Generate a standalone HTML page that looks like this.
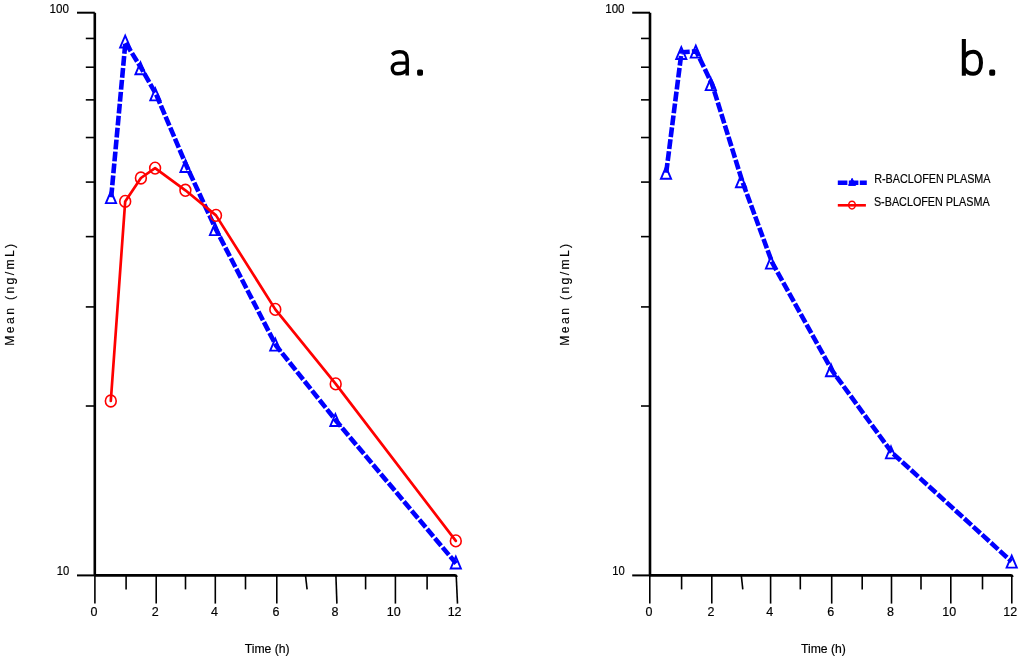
<!DOCTYPE html>
<html><head><meta charset="utf-8"><style>
html,body{margin:0;padding:0;background:#fff;}
body{width:1024px;height:662px;overflow:hidden;}
svg{display:block;will-change:transform;}
text{font-family:"Liberation Sans",sans-serif;fill:#000;stroke:#000;stroke-width:0.18px;}
.tk{font-size:12.5px;}
.ttl{font-size:12.2px;}
.yl{letter-spacing:2.35px;}
.lg{font-size:12px;}
.big{font-size:50px;}
</style></head><body>
<svg width="1024" height="662" viewBox="0 0 1024 662">
<line x1="94.8" y1="12.7" x2="94.8" y2="575.4" stroke="#000" stroke-width="2.6"/>
<line x1="77" y1="575.4" x2="94.8" y2="575.4" stroke="#000" stroke-width="2"/>
<path d="M94.8 575.4 L454.7 575.4 Q456.3 575.4 456.3 577" fill="none" stroke="#000" stroke-width="2.7"/>
<line x1="77" y1="12.7" x2="94.8" y2="12.7" stroke="#000" stroke-width="2"/>
<line x1="85.8" y1="406.01" x2="94.8" y2="406.01" stroke="#000" stroke-width="1.6"/>
<line x1="85.8" y1="306.92" x2="94.8" y2="306.92" stroke="#000" stroke-width="1.6"/>
<line x1="85.8" y1="236.62" x2="94.8" y2="236.62" stroke="#000" stroke-width="1.6"/>
<line x1="85.8" y1="182.09" x2="94.8" y2="182.09" stroke="#000" stroke-width="1.6"/>
<line x1="85.8" y1="137.53" x2="94.8" y2="137.53" stroke="#000" stroke-width="1.6"/>
<line x1="85.8" y1="99.86" x2="94.8" y2="99.86" stroke="#000" stroke-width="1.6"/>
<line x1="85.8" y1="67.23" x2="94.8" y2="67.23" stroke="#000" stroke-width="1.6"/>
<line x1="85.8" y1="38.45" x2="94.8" y2="38.45" stroke="#000" stroke-width="1.6"/>
<line x1="94.9" y1="575.4" x2="94.9" y2="603.6" stroke="#000" stroke-width="1.6"/>
<line x1="126.1" y1="575.4" x2="126.1" y2="589.4" stroke="#000" stroke-width="1.6"/>
<line x1="156.2" y1="575.4" x2="156.2" y2="603.6" stroke="#000" stroke-width="1.6"/>
<line x1="185.5" y1="575.4" x2="185.5" y2="589.4" stroke="#000" stroke-width="1.6"/>
<line x1="215.3" y1="575.4" x2="215.3" y2="603.6" stroke="#000" stroke-width="1.6"/>
<line x1="245.5" y1="575.4" x2="245.5" y2="589.4" stroke="#000" stroke-width="1.6"/>
<line x1="276.8" y1="575.4" x2="276.8" y2="603.6" stroke="#000" stroke-width="1.6"/>
<line x1="305.5" y1="575.4" x2="307.1" y2="589.4" stroke="#000" stroke-width="1.6"/>
<line x1="335.9" y1="575.4" x2="336.9" y2="603.6" stroke="#000" stroke-width="1.6"/>
<line x1="365.6" y1="575.4" x2="365.6" y2="589.4" stroke="#000" stroke-width="1.6"/>
<line x1="395.4" y1="575.4" x2="395.4" y2="603.6" stroke="#000" stroke-width="1.6"/>
<line x1="427.1" y1="575.4" x2="427.1" y2="589.4" stroke="#000" stroke-width="1.6"/>
<line x1="456.2" y1="575.4" x2="457.5" y2="603.6" stroke="#000" stroke-width="1.6"/>
<text x="94" y="616" text-anchor="middle" class="tk">0</text>
<text x="155.3" y="616" text-anchor="middle" class="tk">2</text>
<text x="214.4" y="616" text-anchor="middle" class="tk">4</text>
<text x="275.9" y="616" text-anchor="middle" class="tk">6</text>
<text x="335" y="616" text-anchor="middle" class="tk">8</text>
<text x="393.8" y="616" text-anchor="middle" class="tk">10</text>
<text x="454.6" y="616" text-anchor="middle" class="tk">12</text>
<text transform="translate(69,12.7) scale(0.93,1)" text-anchor="end" class="tk">100</text>
<text transform="translate(69.2,575.2) scale(0.9,1)" text-anchor="end" class="tk">10</text>
<text x="244.7" y="652.9" class="ttl">Time (h)</text>
<text transform="translate(13.6,293.6) rotate(-90)" text-anchor="middle" class="ttl yl">Mean (ng/mL)</text>
<path d="M392.1 54.6 C394.3 52.7 396.8 51.75 399.7 51.75 C404.7 51.75 407.2 54.3 407.2 59.3 L407.2 75.4" fill="none" stroke="#000" stroke-width="3.5"/>
<path d="M407.2 63.1 L398.6 63.1 C394.6 63.1 392.3 65.3 392.3 68.6 C392.3 71.8 394.5 73.8 397.8 73.8 C401.6 73.8 404.6 72.4 407.2 69.8" fill="none" stroke="#000" stroke-width="3.4"/>
<rect x="417.1" y="69.4" width="5.9" height="6.3" rx="1.6" fill="#000"/>
<path d="M111 191.2 L116.1 203.1 L105.9 203.1 Z" fill="none" stroke="#00f" stroke-width="1.9" stroke-linejoin="miter"/>
<path d="M125.2 35.6 L130.3 47.5 L120.1 47.5 Z" fill="none" stroke="#00f" stroke-width="1.9" stroke-linejoin="miter"/>
<path d="M140.5 62.4 L145.6 74.3 L135.4 74.3 Z" fill="none" stroke="#00f" stroke-width="1.9" stroke-linejoin="miter"/>
<path d="M155.4 88.5 L160.5 100.4 L150.3 100.4 Z" fill="none" stroke="#00f" stroke-width="1.9" stroke-linejoin="miter"/>
<path d="M185.5 160.1 L190.6 172 L180.4 172 Z" fill="none" stroke="#00f" stroke-width="1.9" stroke-linejoin="miter"/>
<path d="M215 223.2 L220.1 235.1 L209.9 235.1 Z" fill="none" stroke="#00f" stroke-width="1.9" stroke-linejoin="miter"/>
<path d="M275.3 338.7 L280.4 350.6 L270.2 350.6 Z" fill="none" stroke="#00f" stroke-width="1.9" stroke-linejoin="miter"/>
<path d="M335.4 414.1 L340.5 426 L330.3 426 Z" fill="none" stroke="#00f" stroke-width="1.9" stroke-linejoin="miter"/>
<path d="M455.8 556.6 L460.9 568.5 L450.7 568.5 Z" fill="none" stroke="#00f" stroke-width="1.9" stroke-linejoin="miter"/>
<polyline points="111.2,197.2 125.4,42.4 141.3,68.2 156.2,94.5 186.8,166.6 216,229.5 276,345.5 336.3,421 456.1,563.5" fill="none" stroke="#00f" stroke-width="4.6" stroke-dasharray="9.8 2.2" stroke-linejoin="round"/>
<polyline points="110.8,401 125.2,201.4 140.9,178 155.1,168.1 185.4,190.3 216,215.4 275.3,309.4 335.7,383.9 455.8,540.9" fill="none" stroke="#f00" stroke-width="2.7" stroke-linejoin="round" stroke-linecap="round"/>
<ellipse cx="110.8" cy="401" rx="5.4" ry="5.9" fill="none" stroke="#f00" stroke-width="1.6"/>
<ellipse cx="125.2" cy="201.4" rx="5.4" ry="5.9" fill="none" stroke="#f00" stroke-width="1.6"/>
<ellipse cx="140.9" cy="178" rx="5.4" ry="5.9" fill="none" stroke="#f00" stroke-width="1.6"/>
<ellipse cx="155.1" cy="168.1" rx="5.4" ry="5.9" fill="none" stroke="#f00" stroke-width="1.6"/>
<ellipse cx="185.4" cy="190.3" rx="5.4" ry="5.9" fill="none" stroke="#f00" stroke-width="1.6"/>
<ellipse cx="216" cy="215.4" rx="5.4" ry="5.9" fill="none" stroke="#f00" stroke-width="1.6"/>
<ellipse cx="275.3" cy="309.4" rx="5.4" ry="5.9" fill="none" stroke="#f00" stroke-width="1.6"/>
<ellipse cx="335.7" cy="383.9" rx="5.4" ry="5.9" fill="none" stroke="#f00" stroke-width="1.6"/>
<ellipse cx="455.8" cy="540.9" rx="5.4" ry="5.9" fill="none" stroke="#f00" stroke-width="1.6"/>
<line x1="650" y1="12.7" x2="650" y2="575.4" stroke="#000" stroke-width="2.6"/>
<line x1="632.2" y1="575.4" x2="650" y2="575.4" stroke="#000" stroke-width="2"/>
<path d="M650 575.4 L1010.6 575.4 Q1012.2 575.4 1012.2 577" fill="none" stroke="#000" stroke-width="2.7"/>
<line x1="632.2" y1="12.7" x2="650" y2="12.7" stroke="#000" stroke-width="2"/>
<line x1="641" y1="406.01" x2="650" y2="406.01" stroke="#000" stroke-width="1.6"/>
<line x1="641" y1="306.92" x2="650" y2="306.92" stroke="#000" stroke-width="1.6"/>
<line x1="641" y1="236.62" x2="650" y2="236.62" stroke="#000" stroke-width="1.6"/>
<line x1="641" y1="182.09" x2="650" y2="182.09" stroke="#000" stroke-width="1.6"/>
<line x1="641" y1="137.53" x2="650" y2="137.53" stroke="#000" stroke-width="1.6"/>
<line x1="641" y1="99.86" x2="650" y2="99.86" stroke="#000" stroke-width="1.6"/>
<line x1="641" y1="67.23" x2="650" y2="67.23" stroke="#000" stroke-width="1.6"/>
<line x1="641" y1="38.45" x2="650" y2="38.45" stroke="#000" stroke-width="1.6"/>
<line x1="649.8" y1="575.4" x2="649.8" y2="603.6" stroke="#000" stroke-width="1.6"/>
<line x1="681.6" y1="575.4" x2="681.6" y2="589.4" stroke="#000" stroke-width="1.6"/>
<line x1="711.8" y1="575.4" x2="711.8" y2="603.6" stroke="#000" stroke-width="1.6"/>
<line x1="741.3" y1="575.4" x2="742.8" y2="589.4" stroke="#000" stroke-width="1.6"/>
<line x1="770.6" y1="575.4" x2="770.6" y2="603.6" stroke="#000" stroke-width="1.6"/>
<line x1="800.3" y1="575.4" x2="800.3" y2="589.4" stroke="#000" stroke-width="1.6"/>
<line x1="831.7" y1="575.4" x2="831.7" y2="603.6" stroke="#000" stroke-width="1.6"/>
<line x1="862.2" y1="575.4" x2="862.2" y2="589.4" stroke="#000" stroke-width="1.6"/>
<line x1="891.5" y1="575.4" x2="891.5" y2="603.6" stroke="#000" stroke-width="1.6"/>
<line x1="921" y1="575.4" x2="921" y2="589.4" stroke="#000" stroke-width="1.6"/>
<line x1="950.8" y1="575.4" x2="950.8" y2="603.6" stroke="#000" stroke-width="1.6"/>
<line x1="982.5" y1="575.4" x2="982.5" y2="589.4" stroke="#000" stroke-width="1.6"/>
<line x1="1011.8" y1="575.4" x2="1011.8" y2="603.6" stroke="#000" stroke-width="1.6"/>
<text x="648.9" y="616" text-anchor="middle" class="tk">0</text>
<text x="710.9" y="616" text-anchor="middle" class="tk">2</text>
<text x="769.7" y="616" text-anchor="middle" class="tk">4</text>
<text x="830.8" y="616" text-anchor="middle" class="tk">6</text>
<text x="890.6" y="616" text-anchor="middle" class="tk">8</text>
<text x="949.2" y="616" text-anchor="middle" class="tk">10</text>
<text x="1010.2" y="616" text-anchor="middle" class="tk">12</text>
<text transform="translate(624.6,12.7) scale(0.93,1)" text-anchor="end" class="tk">100</text>
<text transform="translate(624.8,575.2) scale(0.9,1)" text-anchor="end" class="tk">10</text>
<text x="801" y="652.9" class="ttl">Time (h)</text>
<text transform="translate(569.4,293.6) rotate(-90)" text-anchor="middle" class="ttl yl">Mean (ng/mL)</text>
<path d="M961.8 39 H965.9 V75.7 H961.8 Z" fill="#000"/>
<path d="M964.3 57 C966.3 53.6 969.5 51.65 973.2 51.65 C978.3 51.65 981 56.5 981 62.7 C981 69 978.3 73.7 973.2 73.7 C969.5 73.7 966.3 71.9 964.3 68.4" fill="none" stroke="#000" stroke-width="4"/>
<rect x="989.2" y="69.4" width="6" height="6.3" rx="1.6" fill="#000"/>
<path d="M666 166.9 L671.1 178.8 L660.9 178.8 Z" fill="none" stroke="#00f" stroke-width="1.9" stroke-linejoin="miter"/>
<path d="M681.3 47.1 L686.4 59 L676.2 59 Z" fill="none" stroke="#00f" stroke-width="1.9" stroke-linejoin="miter"/>
<path d="M695.8 45.7 L700.9 57.6 L690.7 57.6 Z" fill="none" stroke="#00f" stroke-width="1.9" stroke-linejoin="miter"/>
<path d="M710.8 78.2 L715.9 90.1 L705.7 90.1 Z" fill="none" stroke="#00f" stroke-width="1.9" stroke-linejoin="miter"/>
<path d="M741 175.4 L746.1 187.3 L735.9 187.3 Z" fill="none" stroke="#00f" stroke-width="1.9" stroke-linejoin="miter"/>
<path d="M771 256.7 L776.1 268.6 L765.9 268.6 Z" fill="none" stroke="#00f" stroke-width="1.9" stroke-linejoin="miter"/>
<path d="M831 364.4 L836.1 376.3 L825.9 376.3 Z" fill="none" stroke="#00f" stroke-width="1.9" stroke-linejoin="miter"/>
<path d="M891 446.5 L896.1 458.4 L885.9 458.4 Z" fill="none" stroke="#00f" stroke-width="1.9" stroke-linejoin="miter"/>
<path d="M1011.7 555.7 L1016.8 567.6 L1006.6 567.6 Z" fill="none" stroke="#00f" stroke-width="1.9" stroke-linejoin="miter"/>
<polyline points="666.2,172.8 681.5,52.2 696.3,51.4 712.1,84.2 742.3,181.4 772.2,262.7 832,370.4 891.8,452.5 1011.5,561.5" fill="none" stroke="#00f" stroke-width="4.6" stroke-dasharray="9.8 2.2" stroke-linejoin="round"/>
<line x1="837.8" y1="182.7" x2="866.8" y2="182.7" stroke="#00f" stroke-width="4.4" stroke-dasharray="9.6 1.4"/>
<path d="M852.1 178.3 L855.6 185.4 L848.6 185.4 Z" fill="#00f" stroke="#00f" stroke-width="1"/>
<text transform="translate(874.2,183.2) scale(0.9,1)" class="lg">R-BACLOFEN PLASMA</text>
<line x1="837.8" y1="205.3" x2="865.9" y2="205.3" stroke="#f00" stroke-width="2.6"/>
<ellipse cx="852" cy="205.1" rx="3.3" ry="3.9" fill="none" stroke="#f00" stroke-width="1.5"/>
<text transform="translate(873.9,205.6) scale(0.9,1)" class="lg">S-BACLOFEN PLASMA</text>
</svg>
</body></html>
